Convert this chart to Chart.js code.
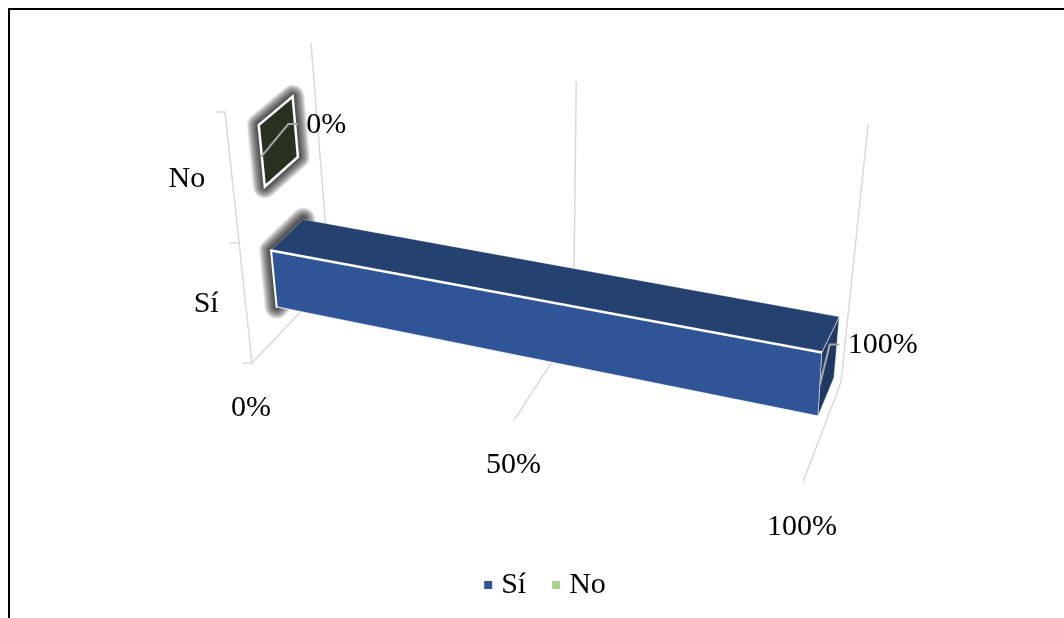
<!DOCTYPE html>
<html>
<head>
<meta charset="utf-8">
<script src="https://cdn.jsdelivr.net/npm/chart.js@4.4.1/dist/chart.umd.min.js"></script>
<style>
  body { margin: 0; background: #fff; }
  #wrap { position: relative; width: 1064px; height: 618px; }
</style>
</head>
<body>
<div id="wrap"><canvas id="respuestas"></canvas></div>
<script>
// categorias y porcentajes
var categorias = ['Sí', 'No'];
var porcentajes = [100, 0];
var ticksValor = [0, 50, 100];
var coloresLeyenda = ['#2F5597', '#A9D18E'];

// caras de cada barra: frente, tapa superior, extremo
var coloresFrente = ['#2F5597', '#2B3424'];
var coloresTapa = ['#25416F', '#262E20'];
var coloresExtremo = ['#203864', '#28301F'];

// esquinas de la caja 3D en pantalla (v = valor, c = categoria, d = profundidad)
var caja = {
  A: {x: 252, y: 363},  // v0 c0 d0
  B: {x: 225, y: 112},  // v0 c1 d0
  C: {x: 803, y: 482},  // v1 c0 d0
  D: {x: 814, y: 193},  // v1 c1 d0
  E: {x: 330, y: 281},  // v0 c0 d1
  F: {x: 311, y: 43},   // v0 c1 d1
  G: {x: 841, y: 382},  // v1 c0 d1
  H: {x: 868, y: 125}   // v1 c1 d1
};
var prof0 = 0.35, prof1 = 0.75, grosor = 0.24;
var fuente = '30px "Liberation Serif", "Times New Roman", serif';

function lerp(p, q, t) {
  return {x: p.x + (q.x - p.x) * t, y: p.y + (q.y - p.y) * t};
}
function persp(t, r) {
  return t / (t + r * (1 - t));
}
function proyectar(v, c, d) {
  var tv = persp(v, 1.1), tc = persp(c, 1.09);
  var frente = lerp(lerp(caja.A, caja.C, tv), lerp(caja.B, caja.D, tv), tc);
  var fondo = lerp(lerp(caja.E, caja.G, tv), lerp(caja.F, caja.H, tv), tc);
  return lerp(frente, fondo, d);
}

function poligono(ctx, pts, relleno, borde, ancho) {
  ctx.beginPath();
  ctx.moveTo(pts[0].x, pts[0].y);
  for (var i = 1; i < pts.length; i++) ctx.lineTo(pts[i].x, pts[i].y);
  ctx.closePath();
  if (relleno) { ctx.fillStyle = relleno; ctx.fill(); }
  if (borde) { ctx.strokeStyle = borde; ctx.lineWidth = ancho || 1.5; ctx.stroke(); }
}
function linea(ctx, p, q, color, ancho) {
  ctx.beginPath();
  ctx.moveTo(p.x, p.y);
  ctx.lineTo(q.x, q.y);
  ctx.strokeStyle = color;
  ctx.lineWidth = ancho;
  ctx.stroke();
}
// halo difuso: trazos concentricos cada vez mas finos
function halo(ctx, pts) {
  ctx.save();
  ctx.lineJoin = 'round';
  for (var w = 24; w >= 2; w -= 1.5) {
    poligono(ctx, pts, null, 'rgba(0,0,0,0.075)', w);
  }
  ctx.restore();
}

var barras3d = {
  id: 'barras3d',
  afterDraw: function(chart) {
    var ctx = chart.ctx;
    var xs = chart.scales.x, ys = chart.scales.y;
    var fracV = function(val) { return (xs.getPixelForValue(val) - xs.left) / (xs.right - xs.left); };
    var fracC = function(i) { return (ys.bottom - ys.getPixelForValue(i)) / (ys.bottom - ys.top); };

    ctx.save();
    ctx.fillStyle = '#fff';
    ctx.fillRect(0, 0, chart.width, chart.height);

    // marco
    ctx.strokeStyle = '#000';
    ctx.lineWidth = 2;
    ctx.strokeRect(9, 9, 1200, 800);

    // lineas de division (pared del fondo y piso)
    ctx.lineCap = 'round';
    ticksValor.forEach(function(t) {
      var v = fracV(t);
      var arriba = proyectar(v, 1, 1), abajo = proyectar(v, 0, 1), frente = proyectar(v, 0, 0);
      linea(ctx, arriba, abajo, '#D9D9D9', 1.5);
      linea(ctx, abajo, frente, '#D9D9D9', 1.5);
      ctx.fillStyle = '#000';
      ctx.font = fuente;
      ctx.textAlign = 'center';
      ctx.textBaseline = 'middle';
      ctx.fillText(t + '%', frente.x - 1, frente.y + 45);
    });

    // eje de categorias
    var paso = fracC(1) - fracC(0);
    linea(ctx, proyectar(0, 0, 0), proyectar(0, 1, 0), '#D9D9D9', 1.5);
    [fracC(0) - paso / 2, fracC(0) + paso / 2, fracC(1) + paso / 2].forEach(function(c) {
      var p = proyectar(0, c, 0);
      linea(ctx, {x: p.x - 9, y: p.y}, p, '#D9D9D9', 1.5);
    });
    categorias.forEach(function(cat, i) {
      var p = proyectar(0, fracC(i), 0);
      ctx.fillStyle = '#000';
      ctx.font = fuente;
      ctx.textAlign = 'right';
      ctx.textBaseline = 'middle';
      ctx.fillText(cat, p.x - 27, p.y);
    });

    // barras (de arriba hacia abajo)
    for (var i = porcentajes.length - 1; i >= 0; i--) {
      var v = fracV(porcentajes[i]);
      var cc = fracC(i) - 0.01;
      var c0 = cc - grosor / 2, c1 = cc + grosor / 2;
      var P = proyectar;
      var base = [P(0, c0, prof0), P(0, c1, prof0), P(0, c1, prof1), P(0, c0, prof1)];

      halo(ctx, base);

      if (v > 0) {
        poligono(ctx, [P(0, c1, prof0), P(v, c1, prof0), P(v, c1, prof1), P(0, c1, prof1)], coloresTapa[i], 'rgba(255,255,255,0.3)', 1);
        poligono(ctx, [P(0, c0, prof0), P(v, c0, prof0), P(v, c1, prof0), P(0, c1, prof0)], coloresFrente[i]);
        linea(ctx, P(0, c0, prof0), P(v, c0, prof0), 'rgba(255,255,255,0.8)', 1.2);
        linea(ctx, P(0, c0, prof0), P(0, c1, prof0), '#fff', 2);
        linea(ctx, P(0, c1, prof0), P(v, c1, prof0), '#fff', 2.5);
        poligono(ctx, [P(v, c0, prof0), P(v, c0, prof1), P(v, c1, prof1), P(v, c1, prof0)], coloresExtremo[i], 'rgba(255,255,255,0.6)', 1);
      } else {
        poligono(ctx, base, coloresExtremo[i], '#fff', 2.5);
      }

      // etiqueta de datos con linea guia
      var inicio = P(v, cc, prof0);
      var ref = P(v, cc, prof1);
      var codo = {x: ref.x - 7, y: ref.y - 3};
      var fin = {x: ref.x + 2, y: ref.y - 3};
      ctx.beginPath();
      ctx.moveTo(inicio.x, inicio.y);
      ctx.lineTo(codo.x, codo.y);
      ctx.lineTo(fin.x, fin.y);
      ctx.strokeStyle = '#A6A6A6';
      ctx.lineWidth = 2;
      ctx.stroke();
      ctx.fillStyle = '#000';
      ctx.font = fuente;
      ctx.textAlign = 'left';
      ctx.textBaseline = 'middle';
      ctx.fillText(porcentajes[i] + '%', ref.x + 11, ref.y - 2);
    }

    // leyenda
    ctx.font = fuente;
    ctx.textAlign = 'left';
    ctx.textBaseline = 'middle';
    var anchos = categorias.map(function(c) { return 8 + 9 + ctx.measureText(c).width; });
    var total = anchos.reduce(function(a, b) { return a + b; }, 0) + 26 * (categorias.length - 1);
    var x = 545 - total / 2, y = 585;
    categorias.forEach(function(cat, i) {
      ctx.fillStyle = coloresLeyenda[i];
      ctx.fillRect(x, y - 4, 8, 8);
      ctx.fillStyle = '#000';
      ctx.fillText(cat, x + 17, y);
      x += anchos[i] + 26;
    });
    ctx.restore();
  }
};

var ctxRespuestas = document.getElementById('respuestas').getContext('2d');
new Chart(ctxRespuestas, {
  type: 'bar',
  data: {
    labels: categorias,
    datasets: [
      {
        data: porcentajes,
        backgroundColor: 'transparent',
        borderWidth: 0
      }
    ]
  },
  options: {
    indexAxis: 'y',
    maintainAspectRatio: false,
    responsive: true,
    animation: false,
    events: [],
    plugins: { legend: { display: false }, tooltip: { enabled: false } },
    scales: {
      x: { min: 0, max: 100, ticks: { stepSize: 50 }, display: false },
      y: { reverse: true, display: false }
    }
  },
  plugins: [barras3d]
});
</script>
</body>
</html>
